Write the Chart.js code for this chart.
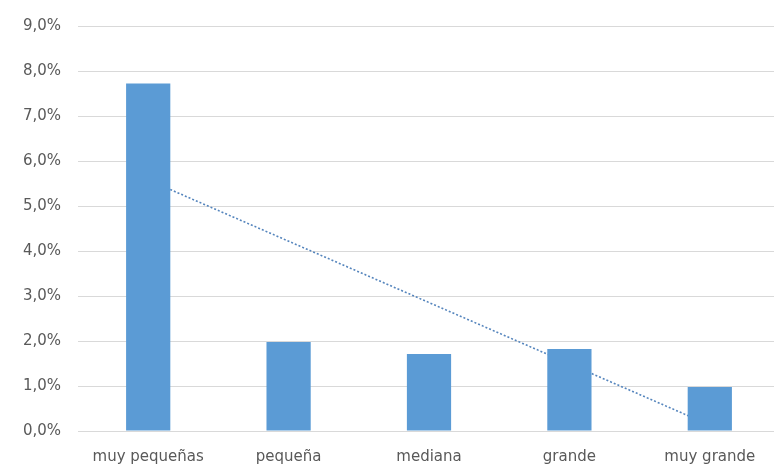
<!DOCTYPE html>
<html>
<head>
<meta charset="utf-8">
<script src="https://cdn.jsdelivr.net/npm/chart.js@4.4.1/dist/chart.umd.min.js"></script>
<style>
html,body{margin:0;padding:0;background:#fff;overflow:hidden;}
#wrap{width:782px;height:466px;position:relative;}
</style>
</head>
<body>
<div id="wrap"><canvas id="c"></canvas></div>
<script>
const categories = ["muy pequeñas", "pequeña", "mediana", "grande", "muy grande"];
const values = [7.72, 1.98, 1.71, 1.82, 0.98];
const trendValues = [5.58, null, null, null, 0.13];
const yTicks = [0, 1, 2, 3, 4, 5, 6, 7, 8, 9];

const FONT = "'DejaVu Sans', sans-serif";
new Chart(document.getElementById('c'), {
  type: 'bar',
  data: {
    labels: categories,
    datasets: [
      {
        type: 'bar',
        data: values,
        backgroundColor: '#5b9bd5',
        borderWidth: 0,
        categoryPercentage: 1,
        barPercentage: 0.315,
        order: 1
      },
      {
        type: 'line',
        data: trendValues,
        spanGaps: true,
        borderColor: '#5585bd',
        borderWidth: 1.6,
        borderDash: [2, 2],
        pointRadius: 0,
        fill: false,
        order: 2
      }
    ]
  },
  options: {
    responsive: true,
    maintainAspectRatio: false,
    animation: false,
    layout: { padding: { top: 26, right: 2, left: 0, bottom: 0 } },
    plugins: { legend: { display: false }, tooltip: { enabled: false } },
    scales: {
      x: {
        offset: true,
        grid: { display: false, drawTicks: false },
        border: { display: false },
        ticks: { color: '#595959', font: { family: FONT, size: 15 }, padding: 17, maxRotation: 0 },
        afterFit: s => { s.height = 35; }
      },
      y: {
        min: 0, max: 9,
        afterBuildTicks: s => { s.ticks = yTicks.map(v => ({ value: v })); },
        grid: { color: '#d9d9d9', lineWidth: 1, drawTicks: false },
        border: { display: false },
        ticks: {
          color: '#595959',
          font: { family: FONT, size: 15 },
          padding: 17,
          callback: v => v.toFixed(1).replace('.', ',') + '%'
        },
        afterFit: s => { s.width = 78; }
      }
    }
  }
});
</script>
</body>
</html>
